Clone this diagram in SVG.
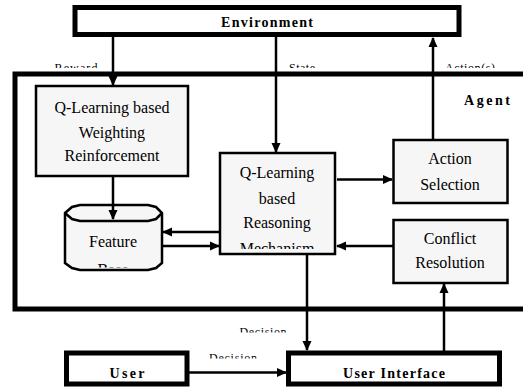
<svg xmlns="http://www.w3.org/2000/svg" width="523" height="387" viewBox="0 0 523 387">
<style>
.thick{fill:#fff;stroke:#000;stroke-width:5}
.box{fill:#f6f6f6;stroke:#000;stroke-width:2.5}
.t,.b,.lbl{font-family:'Liberation Serif',Tinos,'Times New Roman',Times,'Noto Serif','DejaVu Serif',serif;fill:#000;text-anchor:middle}
.t{font-size:16px}
.b{font-size:14px;font-weight:bold}
.lbl{font-size:12px}
.ln{fill:none;stroke:#000;stroke-width:2.5;marker-end:url(#ah)}
.pl{fill:none;stroke:#000;stroke-width:2.5}
</style>
<defs>
<marker id="ah" markerWidth="10" markerHeight="10" refX="9" refY="5" orient="auto" markerUnits="userSpaceOnUse">
<path d="M0,0.5 L10,5 L0,9.5 Z" fill="#000"/>
</marker>
<clipPath id="cRew"><rect x="0" y="0" width="523" height="68"/></clipPath>
<clipPath id="cFB"><rect x="0" y="0" width="523" height="267.5"/></clipPath>
<clipPath id="cQR"><rect x="0" y="0" width="523" height="249"/></clipPath>
<clipPath id="cD1"><rect x="0" y="0" width="523" height="332.5"/></clipPath>
<clipPath id="cD2"><rect x="0" y="0" width="523" height="358.5"/></clipPath>
</defs>

<g id="labels-top">
<text class="lbl" x="76" y="72" clip-path="url(#cRew)" textLength="43">Reward</text>
<text class="lbl" x="302" y="72" clip-path="url(#cRew)" textLength="26">State</text>
<text class="lbl" x="470" y="72" clip-path="url(#cRew)" textLength="50">Action(s)</text>
</g>

<g id="environment">
<rect class="thick" x="75" y="7.5" width="384" height="27"/>
<text class="b" x="267" y="26.5" textLength="92">Environment</text>
</g>

<g id="agent">
<rect class="thick" x="15" y="74" width="520" height="235"/>
<text class="b" x="487" y="105" textLength="46">Agent</text>
</g>

<g id="weighting">
<rect class="box" x="36" y="86" width="152" height="90"/>
<text class="t" x="112" y="113">Q-Learning based</text>
<text class="t" x="112" y="138">Weighting</text>
<text class="t" x="112" y="161">Reinforcement</text>
</g>

<g id="feature-base">
<path class="box" d="M65,213 L72,207 L80,205 L148,205 L156,207 L162,213 L162,263 L156,268 L148,270 L80,270 L72,268 L65,263 Z"/>
<path class="pl" d="M65,213 L72,219 L80,221 L148,221 L156,219 L162,213"/>
<text class="t" x="113" y="247">Feature</text>
<text class="t" x="113" y="275" clip-path="url(#cFB)">Base</text>
</g>

<g id="reasoning">
<rect class="box" x="220" y="153" width="115" height="101"/>
<text class="t" x="277" y="178">Q-Learning</text>
<text class="t" x="277" y="204">based</text>
<text class="t" x="277" y="228">Reasoning</text>
<text class="t" x="277" y="254" clip-path="url(#cQR)">Mechanism</text>
</g>

<g id="action-selection">
<rect class="box" x="393.5" y="140" width="114" height="63"/>
<text class="t" x="450" y="164">Action</text>
<text class="t" x="450" y="190">Selection</text>
</g>

<g id="conflict">
<rect class="box" x="393.5" y="220" width="114" height="63"/>
<text class="t" x="450" y="244">Conflict</text>
<text class="t" x="450" y="268">Resolution</text>
</g>

<g id="user">
<rect class="thick" x="66.5" y="353" width="120.5" height="31"/>
<text class="b" x="127" y="378" textLength="35">User</text>
</g>

<g id="user-interface">
<rect class="thick" x="288.5" y="353" width="211" height="31"/>
<text class="b" x="394" y="378" textLength="102">User Interface</text>
</g>

<g id="connectors">
<line class="ln" x1="113" y1="37" x2="113" y2="85"/>
<line class="ln" x1="276" y1="37" x2="276" y2="152"/>
<line class="ln" x1="433" y1="139" x2="433" y2="38"/>
<line class="ln" x1="113" y1="177" x2="113" y2="219"/>
<line class="ln" x1="220" y1="232" x2="163" y2="232"/>
<line class="ln" x1="162" y1="246" x2="219" y2="246"/>
<line class="ln" x1="337" y1="179.5" x2="392" y2="179.5"/>
<line class="ln" x1="393" y1="246" x2="337" y2="246"/>
<line class="ln" x1="307" y1="255" x2="307" y2="350"/>
<line class="ln" x1="444" y1="351" x2="444" y2="284"/>
<line class="ln" x1="189" y1="372.5" x2="286" y2="372.5"/>
<text class="lbl" x="263" y="336" clip-path="url(#cD1)" textLength="47">Decision</text>
<text class="lbl" x="233" y="362" clip-path="url(#cD2)" textLength="48">Decision</text>
</g>
</svg>
